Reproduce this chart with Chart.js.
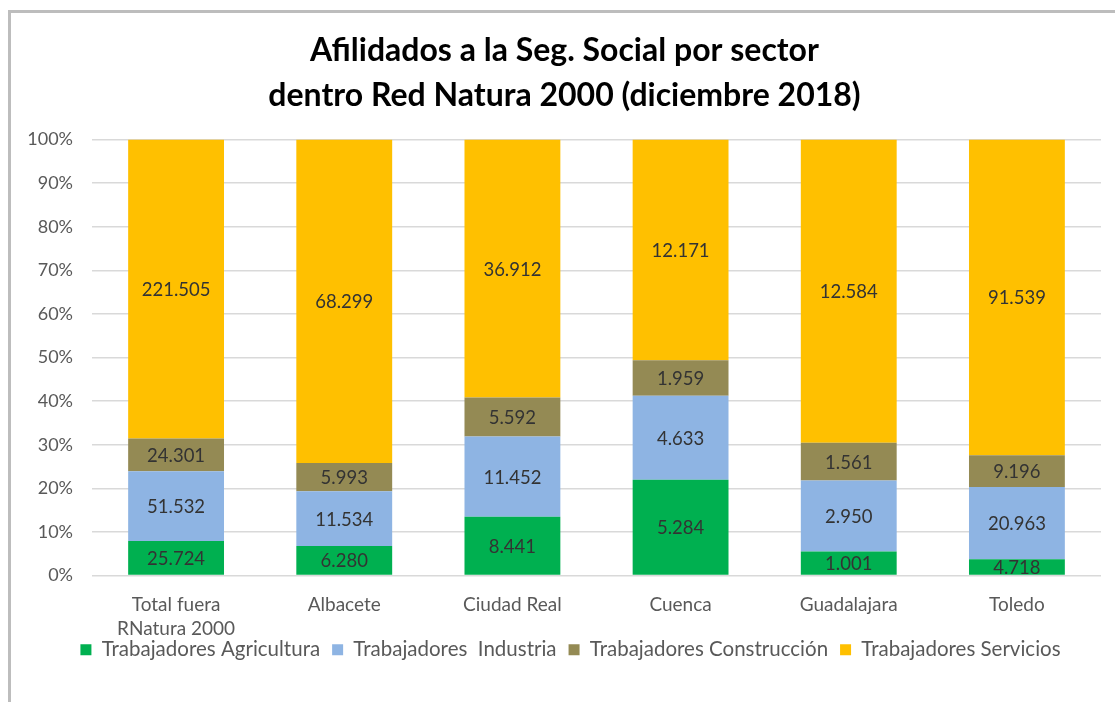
<!DOCTYPE html>
<html lang="es">
<head>
<meta charset="utf-8">
<title>Afiliados a la Seg. Social por sector</title>
<script src="https://cdn.jsdelivr.net/npm/chart.js@4.4.1/dist/chart.umd.min.js"></script>
<style>
  html, body { margin: 0; padding: 0; background: #fff; }
  #wrap { position: relative; width: 1115px; height: 702px; overflow: hidden; }
  #frameTop { position: absolute; left: 8px; top: 10px; width: 1107px; height: 3px; background: #bdbdbd; }
  #frameLeft { position: absolute; left: 8px; top: 10px; width: 3px; height: 692px; background: #bdbdbd; }
  canvas { position: absolute; left: 0; top: 0; }
</style>
</head>
<body>
<div id="wrap">
  <canvas id="grafico" width="1115" height="702"></canvas>
  <div id="frameTop"></div>
  <div id="frameLeft"></div>
</div>
<script>
// datos (número de afiliados por sector)
const categorias = [['Total fuera', 'RNatura 2000'], 'Albacete', 'Ciudad Real', 'Cuenca', 'Guadalajara', 'Toledo'];
const agricultura  = [25724, 6280, 8441, 5284, 1001, 4718];
const industria    = [51532, 11534, 11452, 4633, 2950, 20963];
const construccion = [24301, 5993, 5592, 1959, 1561, 9196];
const servicios    = [221505, 68299, 36912, 12171, 12584, 91539];
const ticksY = [0, 10, 20, 30, 40, 50, 60, 70, 80, 90, 100];

const series = [
  { nombre: 'Trabajadores Agricultura',   valores: agricultura,  color: '#00B050' },
  { nombre: 'Trabajadores  Industria',    valores: industria,    color: '#8EB4E3' },
  { nombre: 'Trabajadores Construcción',  valores: construccion, color: '#948A54' },
  { nombre: 'Trabajadores Servicios',     valores: servicios,    color: '#FFC000' }
];

// totales por columna para pasar a porcentaje (gráfico 100% apilado)
const totales = agricultura.map((_, i) => series.reduce((s, d) => s + d.valores[i], 0));

function formatoMiles(n) {
  return String(n).replace(/\B(?=(\d{3})+(?!\d))/g, '.');
}

const FUENTE = 'Lato, "Open Sans", sans-serif';

// etiquetas de datos dentro de cada tramo
const etiquetasPlugin = {
  id: 'etiquetas',
  afterDatasetsDraw(chart) {
    const ctx = chart.ctx;
    ctx.save();
    ctx.font = '18.5px ' + FUENTE;
    ctx.fillStyle = '#333333';
    ctx.textAlign = 'center';
    ctx.textBaseline = 'middle';
    chart.data.datasets.forEach((ds, di) => {
      const meta = chart.getDatasetMeta(di);
      meta.data.forEach((bar, i) => {
        const y = (bar.y + bar.base) / 2;
        ctx.fillText(formatoMiles(ds.raw[i]), bar.x, y + 1);
      });
    });
    ctx.restore();
  }
};

// ajuste fino: leyenda más pegada al eje y título centrado como en Excel
const ajustePlugin = {
  id: 'ajuste',
  afterLayout(chart) {
    const lg = chart.legend;
    if (lg) { lg.top -= 30; lg.bottom -= 30; lg.left += 20; lg.right += 20; }
    if (chart.titleBlock) { chart.titleBlock.left += 28; }
  }
};

const ctx = document.getElementById('grafico').getContext('2d');

new Chart(ctx, {
  type: 'bar',
  data: {
    labels: categorias,
    datasets: series.map(s => ({
      label: s.nombre,
      raw: s.valores,
      data: s.valores.map((v, i) => v / totales[i] * 100),
      backgroundColor: s.color,
      borderWidth: 0,
      categoryPercentage: 1,
      barPercentage: 0.57
    }))
  },
  options: {
    responsive: false,
    animation: false,
    layout: { padding: { left: 0, right: 14, top: 0, bottom: 2 } },
    scales: {
      x: {
        stacked: true,
        grid: { display: false, drawTicks: false },
        border: { display: false },
        ticks: { color: '#595959', font: { family: FUENTE, size: 19, lineHeight: 1.26 }, padding: 17, maxRotation: 0 }
      },
      y: {
        stacked: true,
        min: 0,
        max: 100,
        afterBuildTicks: axis => { axis.ticks = ticksY.map(v => ({ value: v })); },
        afterFit: s => { s.width = 92; },
        grid: { color: '#d9d9d9', lineWidth: 1.5, drawTicks: false },
        border: { display: false },
        ticks: {
          color: '#595959',
          font: { family: FUENTE, size: 18 },
          padding: 19,
          callback: v => v + '%'
        }
      }
    },
    plugins: {
      title: {
        display: true,
        text: ['Afilidados a la Seg. Social por sector', 'dentro Red Natura 2000 (diciembre 2018)'],
        color: '#000000',
        font: { family: FUENTE, size: 32, weight: 'bold', lineHeight: 1.4 },
        padding: { top: 28, bottom: 22 }
      },
      legend: {
        position: 'bottom',
        labels: {
          color: '#595959',
          font: { family: FUENTE, size: 20.5 },
          boxWidth: 11,
          boxHeight: 11,
          padding: 12
        }
      },
      tooltip: { enabled: false }
    }
  },
  plugins: [etiquetasPlugin, ajustePlugin]
});
</script>
</body>
</html>
